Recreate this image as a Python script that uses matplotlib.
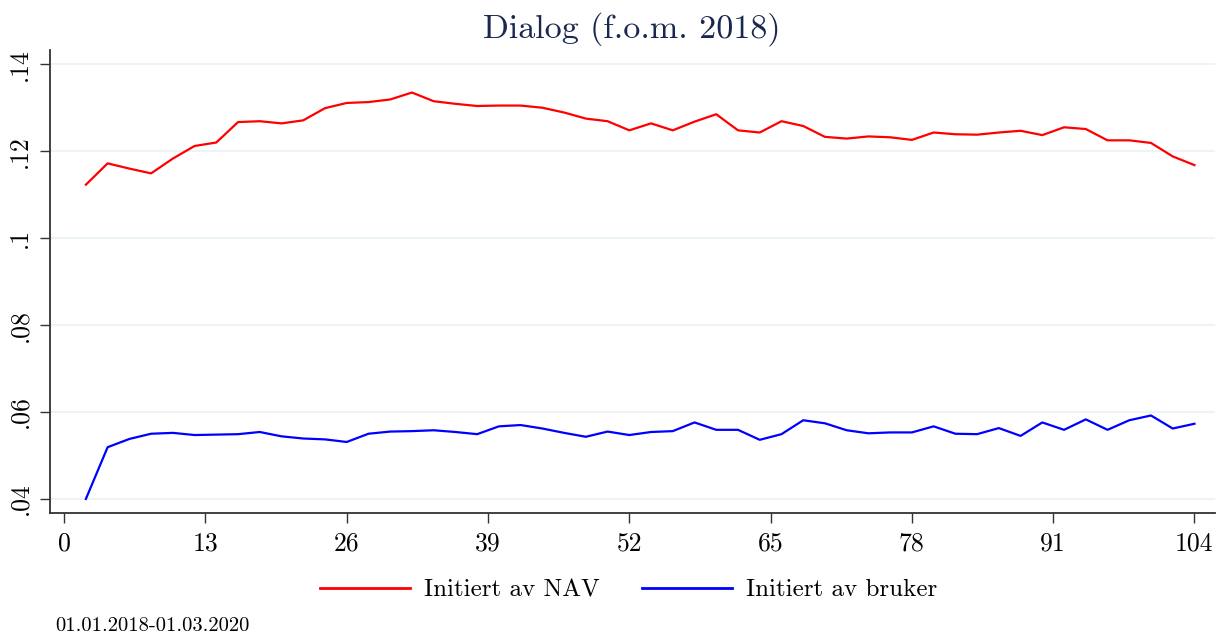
import matplotlib
matplotlib.use("Agg")
import matplotlib.pyplot as plt
from matplotlib.lines import Line2D

weeks = list(range(2, 106, 2))
nav = [0.1123, 0.1172, 0.1160, 0.1149, 0.1183, 0.1212, 0.1220, 0.1267, 0.1269, 0.1264,
       0.1271, 0.1299, 0.1311, 0.1313, 0.1319, 0.1335, 0.1315, 0.1309, 0.1304, 0.1305,
       0.1305, 0.1300, 0.1289, 0.1275, 0.1269, 0.1248, 0.1264, 0.1248, 0.1268, 0.1285,
       0.1248, 0.1243, 0.1269, 0.1258, 0.1233, 0.1229, 0.1234, 0.1232, 0.1226, 0.1243,
       0.1239, 0.1238, 0.1243, 0.1247, 0.1237, 0.1255, 0.1251, 0.1225, 0.1225, 0.1219,
       0.1188, 0.1168]
bruker = [0.0400, 0.0519, 0.0538, 0.0550, 0.0552, 0.0547, 0.0548, 0.0549, 0.0554, 0.0544,
          0.0539, 0.0537, 0.0531, 0.0550, 0.0555, 0.0556, 0.0558, 0.0554, 0.0549, 0.0567,
          0.0570, 0.0562, 0.0552, 0.0543, 0.0555, 0.0547, 0.0554, 0.0556, 0.0576, 0.0559,
          0.0559, 0.0536, 0.0549, 0.0581, 0.0574, 0.0558, 0.0551, 0.0553, 0.0553, 0.0567,
          0.0550, 0.0549, 0.0563, 0.0545, 0.0576, 0.0559, 0.0583, 0.0559, 0.0581, 0.0592,
          0.0562, 0.0573]
xticks = [0, 13, 26, 39, 52, 65, 78, 91, 104]
yticks = [0.04, 0.06, 0.08, 0.10, 0.12, 0.14]
ytick_labels = [".04", ".06", ".08", ".1", ".12", ".14"]
labels = ["Initiert av NAV", "Initiert av bruker"]
title = "Dialog (f.o.m. 2018)"
note = "01.01.2018-01.03.2020"

plt.rcParams['font.family'] = ['cmr10', 'DejaVu Serif']
plt.rcParams['axes.formatter.use_mathtext'] = True

fig = plt.figure(figsize=(12.2, 6.4), dpi=100)
ax = fig.add_axes([0.041, 0.198, 0.955, 0.724])

ax.plot(weeks, nav, color="#ff0000", lw=1.6)
ax.plot(weeks, bruker, color="#0000ff", lw=1.6)

ax.set_xlim(-1.3, 105.9)
ax.set_ylim(0.0367, 0.1433)
ax.set_xticks(xticks)
ax.set_xticklabels([str(t) for t in xticks], fontsize=18.5)
ax.set_yticks(yticks)
ax.set_yticklabels(ytick_labels, fontsize=18.5, rotation=90, va="center")

ax.grid(axis="y", color="#eaf2f3", lw=1.2)
ax.set_axisbelow(True)
for s in ["top", "right"]:
    ax.spines[s].set_visible(False)
for s in ["left", "bottom"]:
    ax.spines[s].set_color("#333333")
    ax.spines[s].set_linewidth(1.3)
ax.tick_params(axis="both", direction="out", length=7, width=1.0, color="#333333",
               pad=6)

fig.text(0.518, 0.955, title, ha="center", va="center", fontsize=24.5, color="#1a2850")

handles = [Line2D([], [], color="#ff0000", lw=2.0), Line2D([], [], color="#0000ff", lw=2.0)]
fig.legend(handles, labels, loc="center", bbox_to_anchor=(0.515, 0.078), ncol=2,
           frameon=False, fontsize=18, handlelength=3.6, columnspacing=1.7, handletextpad=0.56)

fig.text(0.045, 0.008, note, ha="left", va="bottom", fontsize=14.8)

fig.savefig("out.png", dpi=100, facecolor="white")
